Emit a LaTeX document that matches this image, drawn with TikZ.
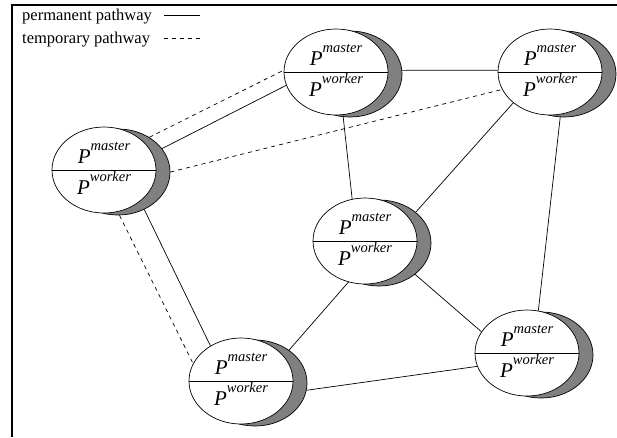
\documentclass[tikz,border=0pt]{standalone}
\usepackage{fontspec}
\setmainfont{Liberation Serif}
\usetikzlibrary{shapes.geometric}
\definecolor{shadowgray}{RGB}{128,128,128}
\tikzset{
 procell/.style={ellipse, draw, fill=white, line width=0.7pt, minimum width=104pt, minimum height=86pt, inner sep=0pt},
 shadell/.style={ellipse, draw, fill=shadowgray, line width=0.7pt, minimum width=104pt, minimum height=86pt, inner sep=0pt},
 midline/.style={line width=0.9pt},
 ptext/.style={inner sep=0pt, anchor=base, font=\fontsize{21}{23}\selectfont\itshape},
 conn/.style={line width=0.7pt},
 tconn/.style={line width=0.7pt, dash pattern=on 4pt off 4pt},
 legtext/.style={inner sep=0pt, anchor=base west, font=\fontsize{16.5}{18}\selectfont},
 framestyle/.style={line width=2.4pt},
}
\newcommand\procnode[3]{%
 \node[shadell] (#1s) at ({#2+14},{#3+2}) {};
 \node[procell] (#1) at (#2,#3) {};
 \draw[midline] (#1.west) -- (#1.east);
 \node[ptext] (#1m) at ({#2},{#3-7}) {P\raisebox{12.5pt}{\fontsize{14.5}{16}\selectfont master}};
 \node[ptext] (#1w) at ({#2},{#3+24}) {P\raisebox{12.5pt}{\fontsize{14.5}{16}\selectfont worker}};
}
\begin{document}
\begin{tikzpicture}[x=1pt,y=-1pt]
\useasboundingbox (0,0) rectangle (617,437);
% frame
\coordinate (fbl) at (12,437);
\coordinate (ftl) at (12,5);
\coordinate (ftr) at (617,5);
\draw[framestyle] (fbl) -- (ftl) -- (ftr);
% legend
\node[legtext] (l1) at (22,20) {permanent pathway};
\node[legtext] (l2) at (22,43) {temporary pathway};
\coordinate (l1a) at (164,15);
\coordinate (l1b) at (200,15);
\coordinate (l2a) at (164,38);
\coordinate (l2b) at (200,38);
\draw[conn] (l1a) -- (l1b);
\draw[tconn] (l2a) -- (l2b);
% processes
\procnode{A}{104}{170}
\procnode{B}{336}{72}
\procnode{C}{550}{72}
\procnode{D}{365}{241}
\procnode{E}{241}{381}
\procnode{F}{527}{353}
% connectors
\draw[conn] (As.28) -- (B.195);
\draw[tconn] (As.48) -- (B.178);
\draw[tconn] (As.0) -- (C.200);
\draw[conn] (Bs.4) -- (C.178);
\draw[conn] (Bs.261) -- (D.107);
\draw[conn] (C.220) -- (Ds.40);
\draw[conn] (Cs.265) -- (F.75);
\draw[conn] (D.248) -- (Es.44);
\draw[conn] (Ds.319) -- (F.155);
\draw[conn] (Es.352) -- (F.195);
\draw[conn] (As.305) -- (E.131);
\draw[tconn] (As.272) -- (E.160);
\end{tikzpicture}
\end{document}
